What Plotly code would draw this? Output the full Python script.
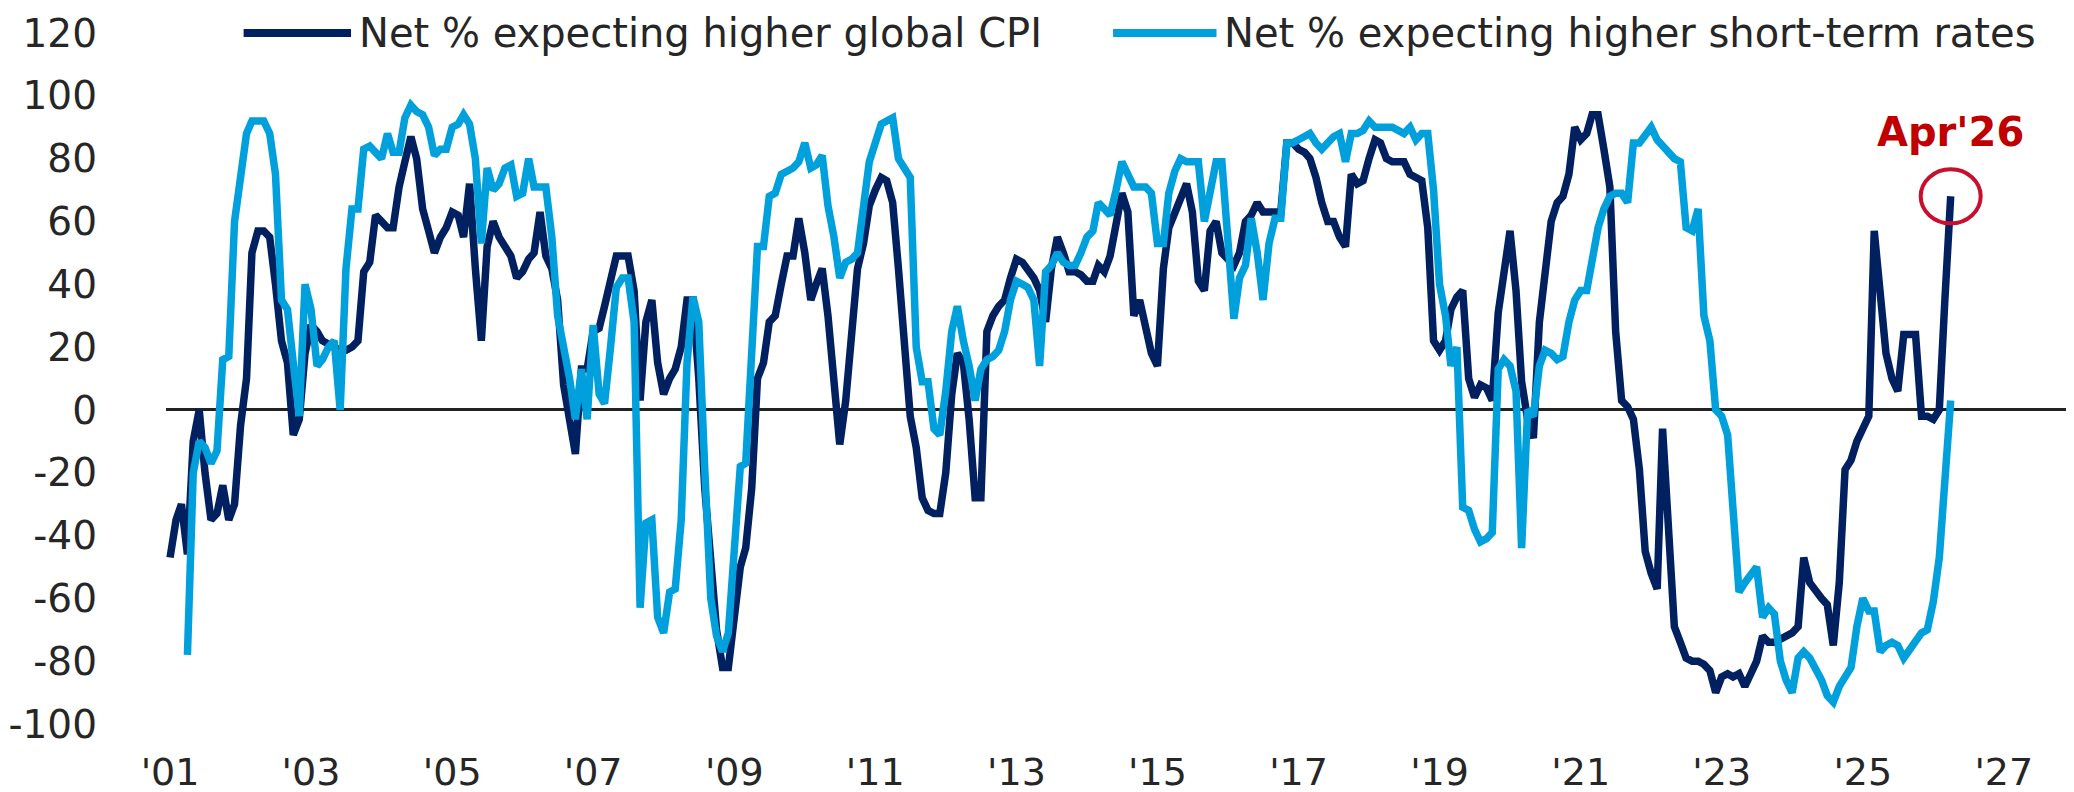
import pandas as pd
import plotly.graph_objects as go

# ---------------- data (monthly, Jan 2001 .. Apr 2026) ----------------
start_month = "2001-01-01"

cpi_net = [
    -47, -35, -30, -46, -10, 0, -20, -35, -33, -24, -35, -30,      # 2001
    -5, 10, 50, 57, 57, 55, 40, 22, 15, -8, -3, 18,                # 2002
    27, 25, 22, 21, 20, 19, 19, 20, 22, 44, 47, 62,                # 2003
    60, 58, 58, 71, 79, 87, 80, 64, 57, 50, 55, 58,                # 2004
    63, 62, 55, 72, 45, 22, 52, 60, 55, 52, 49, 42,                # 2005
    44, 48, 50, 63, 49, 45, 35, 8, -5, -14, 13, 13,                # 2006
    25, 26, 33, 42, 49, 49, 49, 38, 3, 28, 35, 15,                 # 2007
    5, 10, 13, 20, 35, 35, 10, -25, -50, -70, -82, -82,            # 2008
    -66, -50, -44, -25, 10, 15, 28, 30, 40, 49, 49, 61,            # 2009
    50, 35, 40, 45, 30, 12, -11, 3, 22, 45, 53, 65,                # 2010
    70, 74, 73, 66, 45, 20, -2, -12, -28, -32, -33, -33,           # 2011
    -20, 5, 18, 15, -3, -28, -28, 25, 30, 33, 35, 42,              # 2012
    48, 47, 45, 42, 38, 28, 45, 55, 50, 44, 44, 43,                # 2013
    41, 41, 46, 44, 49, 60, 69, 63, 30, 35, 25, 18,                # 2014
    14, 45, 58, 63, 68, 72, 63, 41, 38, 57, 60, 50,                # 2015
    48, 46, 50, 60, 62, 66, 63, 63, 63, 63, 85, 85,                # 2016
    83, 82, 80, 74, 66, 60, 60, 55, 52, 75, 72, 73,                # 2017
    80, 86, 85, 80, 79, 79, 79, 75, 74, 73, 58, 22,                # 2018
    19, 22, 32, 36, 38, 10, 4, 8, 7, 3, 31, 45,                    # 2019
    57, 38, 9, -3, -9, 28, 45, 60, 66, 68, 75, 90,                 # 2020
    86, 88, 94, 94, 83, 71, 25, 3, 1, -3, -19, -45,                # 2021
    -52, -57, -6, -35, -69, -74, -79, -80, -80, -81, -83, -90,     # 2022
    -85, -84, -85, -84, -88, -84, -80, -72, -74, -74, -73, -72,    # 2023
    -71, -69, -47, -55, -58, -60, -62, -75, -55, -19, -16, -10,    # 2024
    -6, -2, 57, 35, 18, 10, 6, 24, 24, 24, -2, -2,                 # 2025
    -3, 0, 34, 68,                                                 # 2026
]

rates_net = [
    None, None, None, -78, -20, -10, -12, -17, -13, 16, 17, 60,    # 2001
    74, 88, 92, 92, 92, 88, 75, 35, 32, 15, -2, 40,                # 2002
    32, 14, 16, 20, 22, 0, 45, 64, 64, 83, 84, 82,                 # 2003
    80, 88, 82, 82, 93, 97, 95, 94, 90, 81, 83, 83,                # 2004
    90, 91, 94, 91, 80, 53, 77, 70, 72, 77, 78, 68,                # 2005
    69, 80, 71, 71, 71, 55, 30, 20, 10, -3, 13, -3,                # 2006
    27, 5, 2, 20, 39, 42, 42, 28, -63, -36, -35, -66,              # 2007
    -71, -58, -57, -35, 15, 36, 28, -19, -60, -72, -77, -71,       # 2008
    -42, -18, -17, 20, 52, 52, 68, 69, 75, 76, 77, 79,             # 2009
    85, 77, 78, 81, 65, 55, 42, 47, 48, 50, 63, 79,                # 2010
    85, 91, 92, 93, 80, 77, 74, 20, 9, 9, -6, -8,                  # 2011
    6, 25, 33, 22, 14, 3, 13, 16, 17, 19, 25, 35,                  # 2012
    41, 40, 39, 35, 14, 44, 46, 50, 47, 46, 46, 50,                # 2013
    55, 57, 66, 64, 62, 70, 79, 75, 71, 71, 71, 69,                # 2014
    53, 53, 69, 76, 80, 79, 79, 79, 60, 71, 79, 79,                # 2015
    55, 29, 42, 46, 61, 50, 35, 53, 61, 61, 85, 85,                # 2016
    86, 87, 88, 85, 83, 85, 87, 88, 79, 88, 88, 89,                # 2017
    92, 90, 90, 90, 90, 89, 88, 90, 86, 88, 88, 70,                # 2018
    40, 30, 14, 20, -31, -32, -38, -42, -41, -39, 13, 16,          # 2019
    14, 6, -44, 0, -2, 14, 19, 18, 16, 17, 28, 35,                 # 2020
    38, 38, 49, 58, 64, 68, 69, 69, 66, 85, 85, 88,                # 2021
    90, 86, 84, 82, 80, 79, 58, 57, 64, 30, 22, 0,                 # 2022
    -2, -8, -31, -58, -55, -52, -50, -66, -63, -65, -80, -86,      # 2023
    -90, -79, -77, -79, -82, -86, -91, -93, -88, -85, -82, -69,    # 2024
    -60, -64, -64, -77, -75, -74, -75, -79, -76, -73, -71, -70,    # 2025
    -61, -47, -19, 3,                                              # 2026
]

series_names = ["Net % expecting higher global CPI",
                "Net % expecting higher short-term rates"]

x_tick_years = [2001, 2003, 2005, 2007, 2009, 2011, 2013, 2015, 2017,
                2019, 2021, 2023, 2025, 2027]
x_tick_labels = ["'01", "'03", "'05", "'07", "'09", "'11", "'13", "'15",
                 "'17", "'19", "'21", "'23", "'25", "'27"]
y_tick_values = [120, 100, 80, 60, 40, 20, 0, -20, -40, -60, -80, -100]
y_tick_labels = ["120", "100", "80", "60", "40", "20", "0", "-20", "-40",
                 "-60", "-80", "-100"]

highlight_label = "Apr'26"

# ---------------- styling ----------------
DARK = "#002060"
LIGHT = "#00A0DC"
RED_TEXT = "#C00000"
RED_CIRCLE = "#C8102E"
TEXT = "#262626"
FONT = "DejaVu Sans"

W, H = 2074, 792
ML, MR, MT, MB = 148, 0, 25, 76
PW, PH = W - ML - MR, H - MT - MB


def px_to_paper_x(px):
    return (px - ML) / PW


def px_to_paper_y(py):
    return (H - MB - py) / PH


dates = pd.date_range(start_month, periods=len(cpi_net), freq="MS")
tick_dates = [pd.Timestamp(year=y, month=1, day=1) for y in x_tick_years]

fig = go.Figure()
fig.add_trace(go.Scatter(x=dates, y=cpi_net, mode="lines", name=series_names[0],
                         line=dict(color=DARK, width=7.5), showlegend=False))
fig.add_trace(go.Scatter(x=dates, y=rates_net, mode="lines", name=series_names[1],
                         line=dict(color=LIGHT, width=7.5), showlegend=False))

fig.update_layout(
    width=W, height=H,
    margin=dict(l=ML, r=MR, t=MT, b=MB, pad=0),
    plot_bgcolor="white", paper_bgcolor="white",
    font=dict(family=FONT, size=39, color=TEXT),
    showlegend=False,
)

fig.update_xaxes(
    type="date", range=["2000-12-11", "2028-02-10"],
    tickmode="array", tickvals=tick_dates, ticktext=x_tick_labels,
    showgrid=False, zeroline=False, showline=False, ticks="",
    ticklabelstandoff=22, tickfont=dict(size=38, color=TEXT, family=FONT),
)
fig.update_yaxes(
    range=[-100, 120], tickmode="array", tickvals=y_tick_values,
    ticktext=y_tick_labels, showgrid=False, showline=False, ticks="",
    zeroline=True, zerolinecolor="#222222", zerolinewidth=2.5,
    ticklabelstandoff=68, tickfont=dict(size=39, color=TEXT, family=FONT),
)

# custom legend (long line samples like the original)
legend_y = px_to_paper_y(25)
legend_items = [
    (DARK, 226, 334, 340, series_names[0]),
    (LIGHT, 1100, 1204, 1210, series_names[1]),
]
for color, lx0, lx1, tx, name in legend_items:
    fig.add_shape(type="line", xref="paper", yref="paper",
                  x0=px_to_paper_x(lx0), x1=px_to_paper_x(lx1),
                  y0=legend_y, y1=legend_y,
                  line=dict(color=color, width=8))
    fig.add_annotation(xref="paper", yref="paper", x=px_to_paper_x(tx), y=legend_y,
                       text=name, showarrow=False, xanchor="left", yanchor="middle",
                       font=dict(size=40, color=TEXT, family=FONT))

# highlight of the latest point
last_date = dates[-1]
last_val = cpi_net[-1]
fig.add_shape(type="circle", xref="x", yref="y",
              xsizemode="pixel", ysizemode="pixel",
              xanchor=last_date, yanchor=last_val,
              x0=-30, x1=30, y0=-27, y1=27,
              line=dict(color=RED_CIRCLE, width=4))
fig.add_annotation(x=last_date, y=last_val, yshift=64, text="<b>" + highlight_label + "</b>",
                   showarrow=False, xanchor="center", yanchor="middle",
                   font=dict(size=40, color=RED_TEXT, family=FONT))

fig.write_html("out.html")
